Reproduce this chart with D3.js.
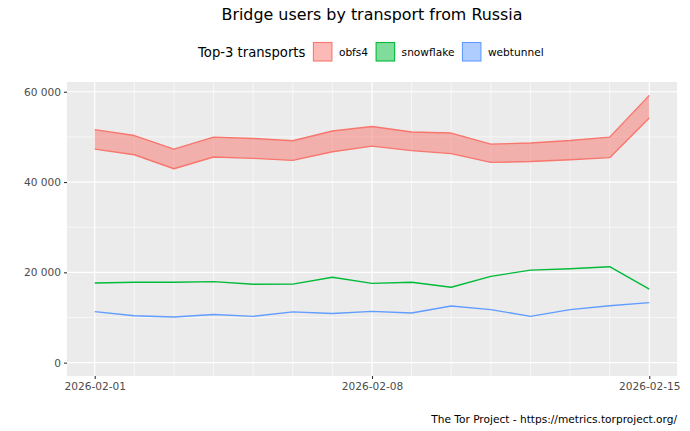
<!DOCTYPE html>
<html>
<head>
<meta charset="utf-8">
<script src="https://cdn.jsdelivr.net/npm/d3@7"></script>
<style>
  body { margin: 0; background: #fff; }
  text { font-family: "DejaVu Sans", sans-serif; }
</style>
</head>
<body>
<div id="chart"></div>
<script>
var W = 690, H = 431;

// data
var dates = ["2026-02-01", "2026-02-02", "2026-02-03", "2026-02-04", "2026-02-05",
             "2026-02-06", "2026-02-07", "2026-02-08", "2026-02-09", "2026-02-10",
             "2026-02-11", "2026-02-12", "2026-02-13", "2026-02-14", "2026-02-15"];
var obfs4Low  = [47300, 46050, 42950, 45550, 45250, 44800, 46700, 47950, 46950, 46300, 44350, 44550, 44950, 45400, 54200];
var obfs4High = [51600, 50300, 47300, 49950, 49650, 49150, 51300, 52300, 51100, 50850, 48400, 48650, 49200, 49950, 59200];
var snowflake = [17650, 17800, 17800, 17950, 17350, 17400, 18900, 17550, 17800, 16700, 19100, 20500, 20800, 21250, 16300];
var webtunnel = [11300, 10400, 10100, 10650, 10250, 11250, 10900, 11350, 11000, 12550, 11750, 10250, 11750, 12600, 13300];

var transports = ["obfs4", "snowflake", "webtunnel"];
var colors = ["#F8766D", "#00BA38", "#619CFF"];
var xTickLabels = ["2026-02-01", "2026-02-08", "2026-02-15"];
var yTicks = [0, 20000, 40000, 60000];
var yMinor = [10000, 30000, 50000];

var title = "Bridge users by transport from Russia";
var legendTitle = "Top-3 transports";
var caption = "The Tor Project - https://metrics.torproject.org/";

var parse = d3.utcParse("%Y-%m-%d");
var days = dates.map(parse);

var margin = {top: 82, right: 13, bottom: 55, left: 67};
var pw = W - margin.left - margin.right;
var ph = H - margin.top - margin.bottom;

var svg = d3.select("#chart").append("svg")
    .attr("width", W).attr("height", H);

// scales with ggplot-like 5% expansion
var xExt = d3.extent(days);
var xPad = (xExt[1] - xExt[0]) * 0.05;
var x = d3.scaleUtc()
    .domain([new Date(+xExt[0] - xPad), new Date(+xExt[1] + xPad)])
    .range([margin.left, margin.left + pw]);

var yMax = d3.max(obfs4High);
var yPad = yMax * 0.05;
var y = d3.scaleLinear()
    .domain([0 - yPad, yMax + yPad])
    .range([margin.top + ph, margin.top]);

var fmt = d3.formatLocale({decimal: ".", thousands: " ", grouping: [3], currency: ["", ""]}).format(",d");

// panel
svg.append("rect")
    .attr("x", margin.left).attr("y", margin.top)
    .attr("width", pw).attr("height", ph)
    .attr("fill", "#EBEBEB");

var grid = svg.append("g");
var majorX = xTickLabels.map(parse);
var minorX = days.filter(function(d) { return !majorX.some(function(m) { return +m === +d; }); });

grid.selectAll(".ymin").data(yMinor).enter().append("line")
    .attr("x1", margin.left).attr("x2", margin.left + pw)
    .attr("y1", function(d) { return y(d); }).attr("y2", function(d) { return y(d); })
    .attr("stroke", "#fff").attr("stroke-width", 0.6);
grid.selectAll(".xmin").data(minorX).enter().append("line")
    .attr("y1", margin.top).attr("y2", margin.top + ph)
    .attr("x1", function(d) { return x(d); }).attr("x2", function(d) { return x(d); })
    .attr("stroke", "#fff").attr("stroke-width", 0.6);
grid.selectAll(".ymaj").data(yTicks).enter().append("line")
    .attr("x1", margin.left).attr("x2", margin.left + pw)
    .attr("y1", function(d) { return y(d); }).attr("y2", function(d) { return y(d); })
    .attr("stroke", "#fff").attr("stroke-width", 1.2);
grid.selectAll(".xmaj").data(majorX).enter().append("line")
    .attr("y1", margin.top).attr("y2", margin.top + ph)
    .attr("x1", function(d) { return x(d); }).attr("x2", function(d) { return x(d); })
    .attr("stroke", "#fff").attr("stroke-width", 1.2);

// obfs4 ribbon
var ribbon = days.map(function(d, i) { return {date: d, lo: obfs4Low[i], hi: obfs4High[i]}; });
svg.append("path")
    .datum(ribbon)
    .attr("fill", colors[0]).attr("fill-opacity", 0.5)
    .attr("d", d3.area()
        .x(function(d) { return x(d.date); })
        .y0(function(d) { return y(d.lo); })
        .y1(function(d) { return y(d.hi); }));

var line = d3.line()
    .x(function(d) { return x(d.date); })
    .y(function(d) { return y(d.v); });

function series(vals) {
    return days.map(function(d, i) { return {date: d, v: vals[i]}; });
}

[[obfs4Low, 0], [obfs4High, 0], [snowflake, 1], [webtunnel, 2]].forEach(function(s) {
    svg.append("path")
        .datum(series(s[0]))
        .attr("fill", "none")
        .attr("stroke", colors[s[1]])
        .attr("stroke-width", 1.4)
        .attr("stroke-linejoin", "round")
        .attr("d", line);
});

// axes
var xAxis = svg.append("g")
    .attr("transform", "translate(0," + (margin.top + ph) + ")")
    .call(d3.axisBottom(x).tickValues(majorX).tickFormat(d3.utcFormat("%Y-%m-%d")).tickSize(3).tickPadding(3));
var yAxis = svg.append("g")
    .attr("transform", "translate(" + margin.left + ",0)")
    .call(d3.axisLeft(y).tickValues(yTicks).tickFormat(fmt).tickSize(3).tickPadding(3));

[xAxis, yAxis].forEach(function(a) {
    a.select(".domain").remove();
    a.selectAll(".tick line").attr("stroke", "#333333").attr("stroke-width", 1.1);
    a.selectAll(".tick text")
        .attr("fill", "#4D4D4D")
        .style("font-size", "10.6px")
        .style("font-family", "'DejaVu Sans', sans-serif");
});

// title
svg.append("text")
    .attr("x", margin.left + pw / 2).attr("y", 19.5)
    .attr("text-anchor", "middle")
    .attr("fill", "#000")
    .style("font-size", "15.9px")
    .text(title);

// legend
var leg = svg.append("g");
var lt = leg.append("text")
    .attr("x", 198).attr("y", 56.5)
    .attr("fill", "#000")
    .style("font-size", "13.2px")
    .text(legendTitle);
var cx = 198 + lt.node().getComputedTextLength() + 7.5;
transports.forEach(function(t, i) {
    leg.append("rect")
        .attr("x", cx + 0.5).attr("y", 42.5)
        .attr("width", 18.5).attr("height", 18.5)
        .attr("fill", colors[i]).attr("fill-opacity", 0.5)
        .attr("stroke", colors[i]).attr("stroke-width", 1.1);
    var tx = leg.append("text")
        .attr("x", cx + 26).attr("y", 55.8)
        .attr("fill", "#000")
        .style("font-size", "10.6px")
        .text(t);
    cx = cx + 26 + tx.node().getComputedTextLength() + 7.5;
});

// caption
svg.append("text")
    .attr("x", margin.left + pw).attr("y", 423)
    .attr("text-anchor", "end")
    .attr("fill", "#000")
    .style("font-size", "10.6px")
    .text(caption);
</script>
</body>
</html>
